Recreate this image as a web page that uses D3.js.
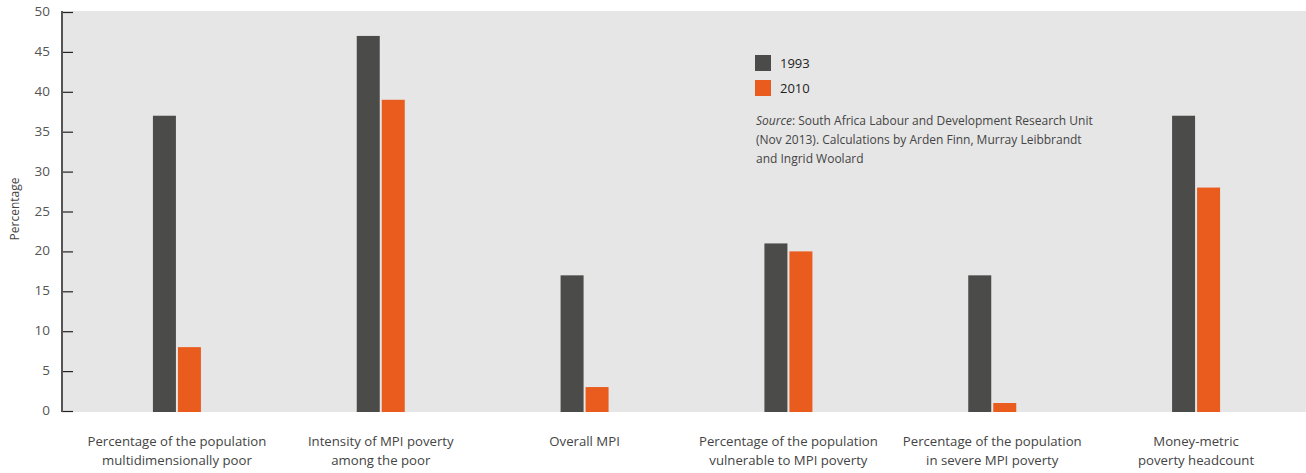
<!DOCTYPE html>
<html>
<head>
<meta charset="utf-8">
<script src="https://cdn.jsdelivr.net/npm/d3@7"></script>
<style>
  html, body { margin: 0; padding: 0; background: #fff; }
  svg { display: block; }
  text { font-family: "Open Sans", "Noto Sans", sans-serif; }
</style>
</head>
<body>
<svg id="chart" width="1306" height="473"></svg>
<script>
// Poverty indicators, South Africa, 1993 vs 2010
const categories = [
  ["Percentage of the population", "multidimensionally poor"],
  ["Intensity of MPI poverty", "among the poor"],
  ["Overall MPI"],
  ["Percentage of the population", "vulnerable to MPI poverty"],
  ["Percentage of the population", "in severe MPI poverty"],
  ["Money-metric", "poverty headcount"]
];
const seriesNames = ["1993", "2010"];
const values1993 = [37, 47, 17, 21, 17, 37];
const values2010 = [8, 39, 3, 20, 1, 28];
const yTicks = [0, 5, 10, 15, 20, 25, 30, 35, 40, 45, 50];
const sourceLines = [
  [["Source", true], [": South Africa Labour and Development Research Unit", false]],
  [["(Nov 2013). Calculations by Arden Finn, Murray Leibbrandt", false]],
  [["and Ingrid Woolard", false]]
];

const colors = { "1993": "#4b4b49", "2010": "#ea5b1e" };
const svg = d3.select("#chart");

const plot = { left: 62, right: 1306, top: 11, bottom: 412 };

const y = d3.scaleLinear().domain([0, 50]).range([411, 12]);
const x = d3.scaleBand().domain(d3.range(categories.length)).range([75, 1298]).paddingInner(0).paddingOuter(0);
const barW = 23, barGap = 2;
const xs = d3.scaleOrdinal().domain(seriesNames).range([-(barW + barGap / 2), barGap / 2]);

// Plot background
svg.append("rect")
  .attr("x", plot.left).attr("y", plot.top)
  .attr("width", plot.right - plot.left).attr("height", plot.bottom - plot.top)
  .attr("fill", "#e6e6e6");

// Bars
const data = categories.map((c, i) => ({ i, v: { "1993": values1993[i], "2010": values2010[i] } }));
const groups = svg.append("g").selectAll("g").data(data).join("g")
  .attr("transform", d => `translate(${x(d.i) + x.bandwidth() / 2},0)`);
groups.selectAll("rect").data(d => seriesNames.map(s => ({ s, v: d.v[s] }))).join("rect")
  .attr("x", d => xs(d.s))
  .attr("width", barW)
  .attr("y", d => y(d.v))
  .attr("height", d => y(0) - y(d.v) + 1)
  .attr("fill", d => colors[d.s]);

// Y axis with inward ticks
const yAxis = d3.axisRight(y).tickValues(yTicks).tickSize(11).tickFormat(d => "");
const ag = svg.append("g").attr("transform", `translate(${plot.left},0)`).call(yAxis);
ag.select(".domain").remove();
ag.selectAll(".tick line").attr("stroke", "#222").attr("stroke-width", 1.2);
svg.append("line")
  .attr("x1", plot.left).attr("x2", plot.left)
  .attr("y1", plot.top).attr("y2", plot.bottom)
  .attr("stroke", "#555").attr("stroke-width", 2);
svg.append("g").selectAll("text").data(yTicks).join("text")
  .attr("x", 50).attr("y", d => y(d) + 4)
  .attr("text-anchor", "end")
  .attr("font-size", 13.5)
  .attr("fill", "#555")
  .text(d => d);

// Y axis title
svg.append("text")
  .attr("transform", "translate(19,209) rotate(-90)")
  .attr("text-anchor", "middle")
  .attr("font-size", 12)
  .attr("fill", "#444")
  .text("Percentage");

// Category labels
const catG = svg.append("g").selectAll("text").data(categories).join("text")
  .attr("x", (d, i) => x(i) + x.bandwidth() / 2)
  .attr("y", 446)
  .attr("text-anchor", "middle")
  .attr("font-size", 13.2)
  .attr("fill", "#444");
catG.selectAll("tspan").data(d => d).join("tspan")
  .attr("x", function () { return d3.select(this.parentNode).attr("x"); })
  .attr("dy", (d, j) => j === 0 ? 0 : 19)
  .text(d => d);

// Legend
const lg = svg.append("g").attr("transform", "translate(755,55)");
seriesNames.forEach((s, k) => {
  lg.append("rect").attr("x", 0).attr("y", k * 25).attr("width", 16).attr("height", 16).attr("fill", colors[s]);
  lg.append("text").attr("x", 25).attr("y", k * 25 + 13).attr("font-size", 13).attr("fill", "#222").text(s);
});

// Source note
const src = svg.append("g").selectAll("text").data(sourceLines).join("text")
  .attr("x", 756).attr("y", (d, i) => 125 + i * 19)
  .attr("font-size", 12)
  .attr("fill", "#444");
src.selectAll("tspan").data(d => d).join("tspan")
  .attr("font-style", d => d[1] ? "italic" : "normal")
  .text(d => d[0]);
</script>
</body>
</html>
